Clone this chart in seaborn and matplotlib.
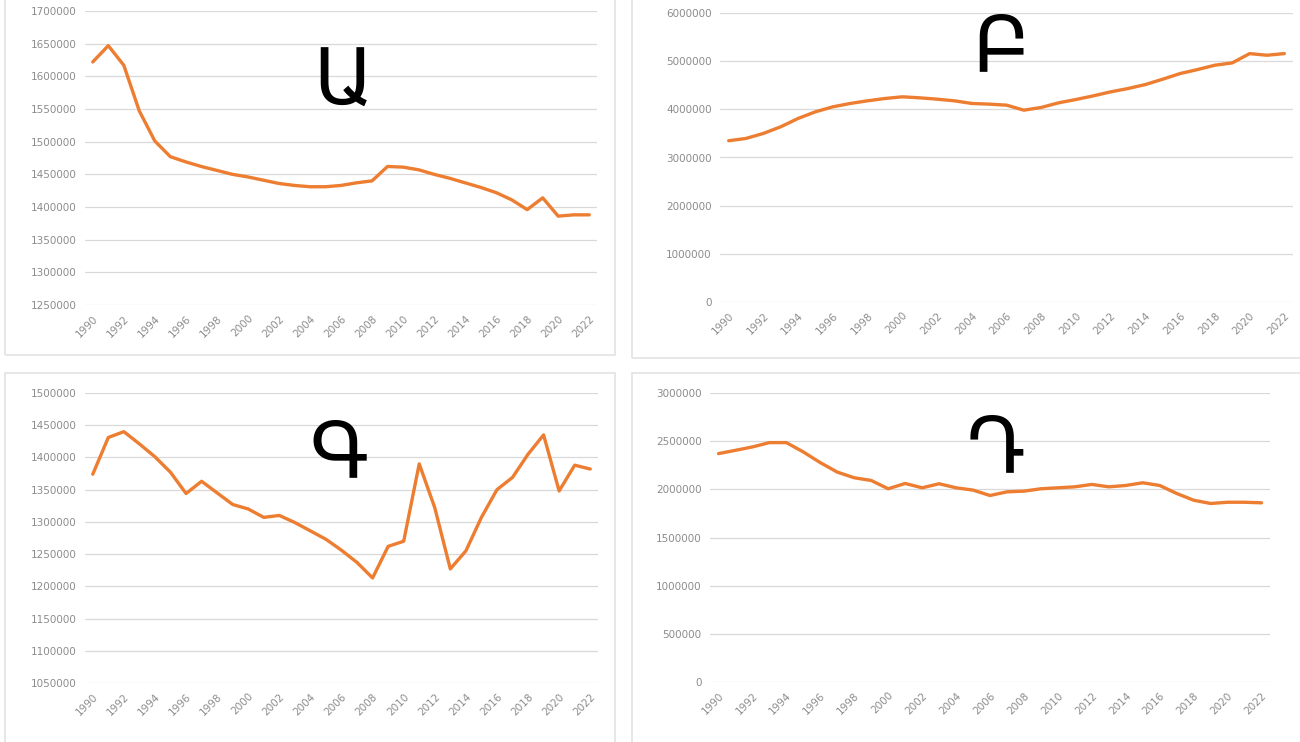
import numpy as np
import matplotlib
matplotlib.use("Agg")
import matplotlib.pyplot as plt
from matplotlib.patches import Rectangle
from matplotlib.ticker import FuncFormatter
import seaborn as sns

years = list(range(1990, 2023))

# panel values
vals_a = [1622000, 1647000, 1617000, 1547000, 1501000, 1477000, 1469000, 1462000,
          1456000, 1450000, 1446000, 1441000, 1436000, 1433000, 1431000, 1431000,
          1433000, 1437000, 1440000, 1462000, 1461000, 1457000, 1450000, 1444000,
          1437000, 1430000, 1422000, 1411000, 1396000, 1414000, 1386000, 1388000,
          1388000]
vals_b = [3348000, 3396000, 3500000, 3638000, 3811000, 3949000, 4052000, 4122000,
          4177000, 4225000, 4260000, 4239000, 4211000, 4177000, 4122000, 4108000,
          4087000, 3983000, 4039000, 4135000, 4204000, 4280000, 4363000, 4432000,
          4515000, 4626000, 4743000, 4826000, 4916000, 4964000, 5157000, 5123000,
          5157000]
vals_c = [1374000, 1431000, 1440000, 1421000, 1401000, 1377000, 1344000, 1363000,
          1345000, 1327000, 1320000, 1307000, 1310000, 1299000, 1286000, 1273000,
          1256000, 1237000, 1213000, 1262000, 1270000, 1390000, 1322000, 1227000,
          1255000, 1307000, 1350000, 1369000, 1405000, 1435000, 1348000, 1388000,
          1382000]
vals_d = [2371000, 2405000, 2440000, 2485000, 2485000, 2388000, 2277000, 2179000,
          2120000, 2092000, 2006000, 2061000, 2016000, 2058000, 2016000, 1992000,
          1936000, 1974000, 1981000, 2006000, 2016000, 2026000, 2051000, 2026000,
          2040000, 2068000, 2040000, 1957000, 1887000, 1853000, 1866000, 1866000,
          1860000]

letters = ["Ա", "Բ", "Գ", "Դ"]
ylims = [(1250000, 1700000, 50000), (0, 6000000, 1000000),
         (1050000, 1500000, 50000), (0, 3000000, 500000)]

sns.set_theme(style="white")
plt.rcParams['font.family'] = ['DejaVu Sans']

W, H = 1300, 742
fig = plt.figure(figsize=(W / 100, H / 100), dpi=100)

# axes boxes in pixels: left, top, right, bottom
boxes = [(85, 11, 597, 305), (720, 13, 1293, 302),
         (85, 393, 598, 683), (710, 393, 1270, 682)]
letter_pos = [(0.505, 0.755), (0.49, 0.875), (0.495, 0.786), (0.51, 0.803)]
series = [vals_a, vals_b, vals_c, vals_d]

# light chart-area frames like the Excel screenshots
for (x0, y0, x1, y1) in [(5, -2, 615, 355), (632, -2, 1302, 358),
                         (5, 373, 615, 745), (632, 373, 1302, 745)]:
    fig.add_artist(Rectangle((x0 / W, 1 - y1 / H), (x1 - x0) / W, (y1 - y0) / H,
                             transform=fig.transFigure, fill=False,
                             edgecolor="#e3e3e3", lw=1.2))

for i in range(4):
    l, t, r, b = boxes[i]
    ax = fig.add_axes([l / W, 1 - b / H, (r - l) / W, (b - t) / H])
    sns.lineplot(x=years, y=series[i], ax=ax, color="#ED7D31", lw=2.4)
    lo, hi, step = ylims[i]
    ax.set_ylim(lo, hi)
    ax.set_yticks(np.arange(lo, hi + step, step))
    ax.yaxis.set_major_formatter(FuncFormatter(lambda v, p: f"{int(v)}"))
    ax.set_xlim(1989.5, 2022.5)
    ax.set_xticks(years[::2])
    ax.set_xticklabels([str(y) for y in years[::2]], rotation=45, ha="right",
                       rotation_mode="anchor")
    ax.grid(axis="y", color="#d9d9d9", lw=0.9)
    ax.set_axisbelow(True)
    for s in ax.spines.values():
        s.set_visible(False)
    ax.tick_params(axis="both", length=0, labelsize=7.5, labelcolor="#8c8c8c", pad=6)
    ax.set_xlabel("")
    ax.set_ylabel("")
    ax.text(letter_pos[i][0], letter_pos[i][1], letters[i], transform=ax.transAxes,
            ha="center", va="center", fontsize=56, color="black")

fig.savefig("out.png", dpi=100)
